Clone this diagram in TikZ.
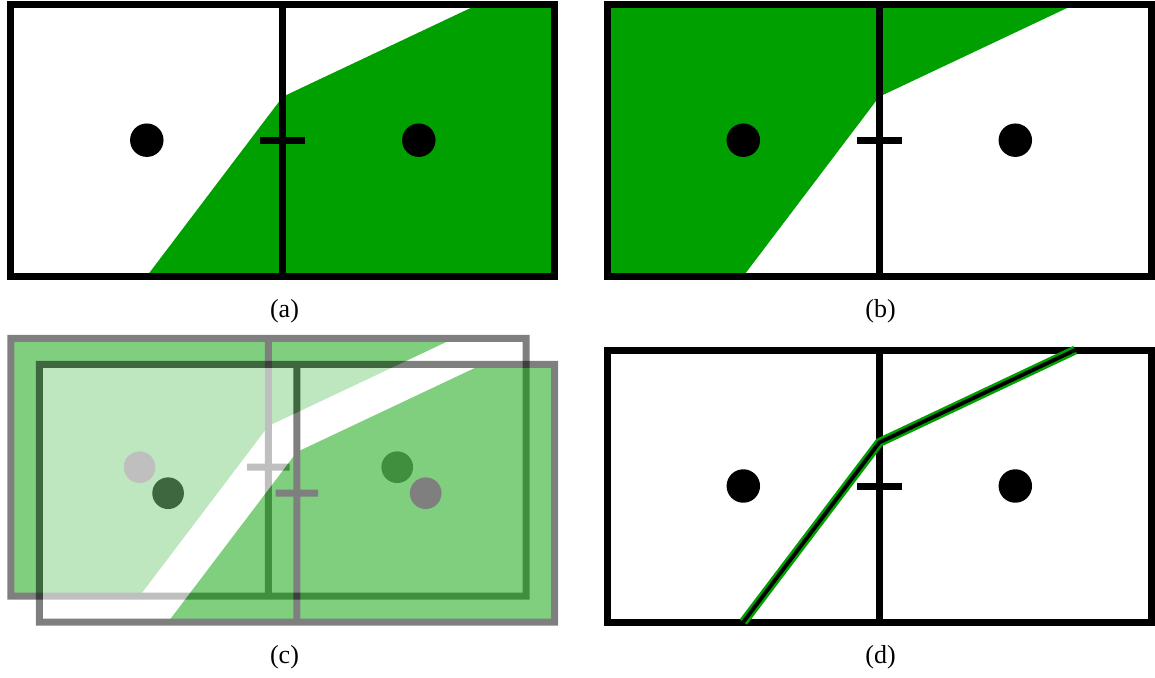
\documentclass[tikz,border=0pt]{standalone}
\usepackage{fontspec}
\setmainfont{Liberation Serif}
\definecolor{cgreen}{RGB}{0,160,0}
\tikzset{
  border/.style={line width=7pt, draw=black},
  gfill/.style={fill=cgreen},
  captext/.style={font=\fontsize{26}{30}\selectfont, inner sep=0pt},
}
\newcommand\cellbase{%
  \draw[border] (0,0) rectangle (4,2);
  \draw[border] (2,0) -- (2,2);
  \draw[border] (1.835,1) -- (2.165,1);
  \fill[black] (1,1) circle[radius=0.123];
  \fill[black] (3,1) circle[radius=0.123];
}
\newcommand\fillA{\fill[gfill] (1,0) -- (2,1.32) -- (3.44,2) -- (4,2) -- (4,0) -- cycle;}
\newcommand\fillB{\fill[gfill] (0,0) -- (1,0) -- (2,1.32) -- (3.44,2) -- (0,2) -- cycle;}
\begin{document}
\begin{tikzpicture}
\useasboundingbox (0,0) rectangle (1155pt,-677pt);
% (a)
\begin{scope}[shift={(10.8pt,-276.2pt)}, x=136pt, y=136pt]
  \fillA
  \cellbase
\end{scope}
% (b)
\begin{scope}[shift={(607.3pt,-276.2pt)}, x=136pt, y=136pt]
  \fillB
  \cellbase
\end{scope}
% (c)
\begin{scope}[shift={(10.8pt,-596pt)}, x=128.8pt, y=128.8pt, transparency group, opacity=0.5]
  \fill[white] (0,0) rectangle (4,2);
  \fillB
  \cellbase
\end{scope}
\begin{scope}[shift={(39.3pt,-622pt)}, x=128.8pt, y=128.8pt, transparency group, opacity=0.5]
  \fill[white] (0,0) rectangle (4,2);
  \fillA
  \cellbase
\end{scope}
% (d)
\begin{scope}[shift={(607.3pt,-622pt)}, x=136pt, y=136pt]
  \cellbase
  \coordinate (p1) at (1,0);
  \coordinate (p2) at (2,1.32);
  \coordinate (p3) at (3.44,2);
  \draw[cgreen, line width=9pt] (p1) -- (p2) -- (p3);
  \draw[black, line width=3.8pt] (p1) -- (p2) -- (p3);
\end{scope}
% captions
\node[captext] (la) at (284.5pt,-311pt) {(a)};
\node[captext] (lb) at (880.5pt,-311pt) {(b)};
\node[captext] (lc) at (284.5pt,-657pt) {(c)};
\node[captext] (ld) at (880.5pt,-657pt) {(d)};
\end{tikzpicture}
\end{document}
